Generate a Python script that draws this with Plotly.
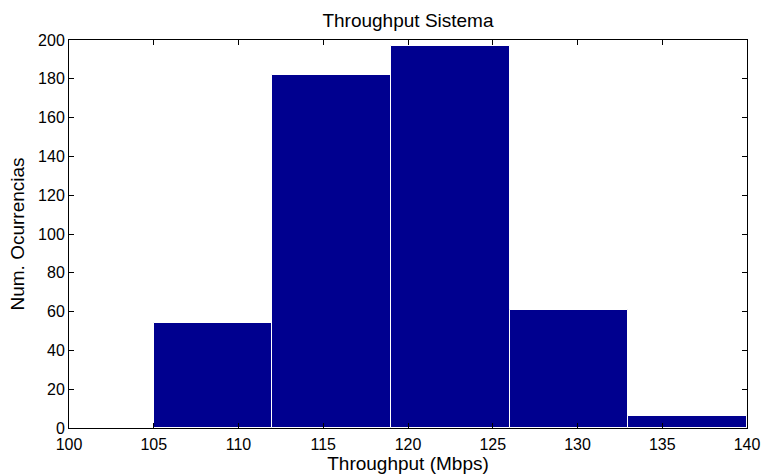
import plotly.graph_objects as go

# Histogram bin edges (Mbps) and counts per bin
bin_edges = [105, 112, 119, 126, 133, 140]
counts = [54, 182, 197, 61, 6]

centers = [(a + b) / 2 for a, b in zip(bin_edges[:-1], bin_edges[1:])]
widths = [b - a for a, b in zip(bin_edges[:-1], bin_edges[1:])]

x_ticks = [100, 105, 110, 115, 120, 125, 130, 135, 140]
y_ticks = list(range(0, 201, 20))

font_family = "Arial, Liberation Sans, sans-serif"

fig = go.Figure(
    go.Bar(
        x=centers,
        y=counts,
        width=widths,
        marker=dict(color="rgb(0,0,143)", line=dict(color="white", width=1)),
        hoverinfo="x+y",
    )
)

axis_common = dict(
    showline=True,
    linecolor="black",
    linewidth=1,
    mirror="ticks",
    ticks="inside",
    ticklen=5,
    tickcolor="black",
    showgrid=False,
    zeroline=False,
    automargin=False,
    tickfont=dict(family=font_family, size=16, color="black"),
)

fig.update_layout(
    width=764,
    height=475,
    margin=dict(l=69, r=17, t=40, b=47),
    paper_bgcolor="white",
    plot_bgcolor="white",
    showlegend=False,
    bargap=0,
    title=dict(
        text="Throughput Sistema",
        x=0.534,
        xanchor="center",
        y=0.957,
        yanchor="middle",
        font=dict(family=font_family, size=19, color="black"),
    ),
    xaxis=dict(
        range=[100, 140],
        tickvals=x_ticks,
        ticklabelstandoff=2,
        title=dict(text="Throughput (Mbps)", standoff=2,
                   font=dict(family=font_family, size=19, color="black")),
        **axis_common,
    ),
    yaxis=dict(
        range=[0, 200],
        tickvals=y_ticks,
        title=dict(text="Num. Ocurrencias", standoff=8,
                   font=dict(family=font_family, size=19, color="black")),
        **axis_common,
    ),
)

fig.write_html("out.html")
